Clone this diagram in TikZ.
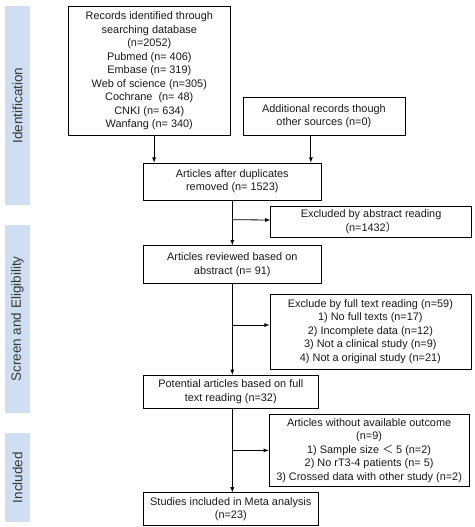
\documentclass[tikz,border=0pt]{standalone}
\usepackage{fontspec}
\setmainfont{Liberation Sans}
\newfontfamily\cjk{Noto Sans CJK SC}
\usetikzlibrary{positioning,calc}
\definecolor{phaseclr}{rgb}{0.81, 0.87, 0.94}
\definecolor{phtxtclr}{rgb}{0.22, 0.22, 0.22}
\definecolor{boxtxtclr}{rgb}{0.1, 0.1, 0.1}
\tikzset{ %
  ,>=latex
  ,x=1pt, y=1pt
  ,box/.style={draw, rectangle, align=center, inner sep=1pt, line width=0.6pt, text=boxtxtclr, font=\fontsize{10.9}{13.5}\selectfont}
  ,phase/.style={fill=phaseclr, rotate=90, inner sep=0, minimum height=25pt, text=phtxtclr, font=\fontsize{13.5}{16}\selectfont}
  ,flow/.style={->, line width=0.8pt}
}

\begin{document}
\begin{tikzpicture}
  \useasboundingbox (0,0) rectangle (474,-527);
  % phases
  \node[phase, minimum width=199pt] (ident) at (17.5,-105.5) {Identification};
  \node[phase, minimum width=188pt] (screen) at (17.5,-319) {Screen and Eligibility};
  \node[phase, minimum width=89pt] (incl) at (17.5,-477.5) {Included};
  % main column
  \node[box, anchor=north west, minimum width=162pt, minimum height=129pt] (rec) at (68,-6)
    {Records identified through\\searching database\\(n=2052)\\Pubmed (n= 406)\\Embase (n= 319)\\Web of science (n=305)\\Cochrane\ \ (n= 48)\\CNKI (n= 634)\\Wanfang (n= 340)};
  \node[box, right=12pt of rec.south east, anchor=south west, minimum width=162pt, minimum height=38pt] (add)
    {Additional records though\\other sources (n=0)};
  \node[box, below=27pt of rec.south west, xshift=75pt, anchor=north west, minimum width=178pt, minimum height=37pt] (dup)
    {Articles after duplicates\\removed (n= 1523)};
  \node[box, below=45pt of dup.south west, anchor=north west, minimum width=178pt, minimum height=38pt] (rev)
    {Articles reviewed based on\\abstract (n= 91)};
  \node[box, below=91pt of rev.south west, anchor=north west, minimum width=175pt, minimum height=33pt] (pot)
    {Potential articles based on full\\text reading (n=32)};
  \node[box, below=84pt of pot.south west, anchor=north west, minimum width=175pt, minimum height=33pt] (inc)
    {Studies included in Meta analysis\\(n=23)};
  % exclusions
  \node[box, anchor=west, minimum width=201pt, minimum height=31pt] (exabs) at ($(dup.south)!0.5!(rev.north)+(38,1)$)
    {Excluded by abstract reading\\(n=1432{\cjk ）}};
  \node[box, anchor=west, minimum width=201pt, minimum height=75pt] (exfull) at ($(rev.south)!0.5!(pot.north)+(38,-2)$)
    {Exclude by full text reading (n=59)\\1) No full texts (n=17)\\2) Incomplete data (n=12)\\3) Not a clinical study (n=9)\\4) Not a original study (n=21)};
  \node[box, anchor=west, minimum width=200pt, minimum height=72pt] (exout) at ($(pot.south)!0.5!(inc.north)+(38,0)$)
    {Articles without available outcome\\(n=9)\\1) Sample size {\cjk ＜} 5 (n=2)\\2) No rT3-4 patients (n= 5)\\3) Crossed data with other study (n=2)};
  % connectors
  \coordinate (a1) at ($(dup.north west)!0.062!(dup.north east)$);
  \coordinate (a2) at ($(dup.north west)!0.94!(dup.north east)$);
  \draw[flow] (rec.south -| a1) -- (a1);
  \draw[flow] (add.south -| a2) -- (a2);
  \draw[flow] (dup) -- (rev);
  \draw[flow] (rev.south -| dup.south) -- (pot.north -| dup.south);
  \draw[flow] (pot.south -| dup.south) -- (inc.north -| dup.south);
  \draw[flow] (exabs.west -| dup.south) ++(0,2) -- (exabs.west |- 0,{-220});
  \draw[flow] (dup.south |- 0,{-325}) -- (exfull.west |- 0,{-325});
  \draw[flow] (dup.south |- exout.west) -- (exout.west);
\end{tikzpicture}
\end{document}
